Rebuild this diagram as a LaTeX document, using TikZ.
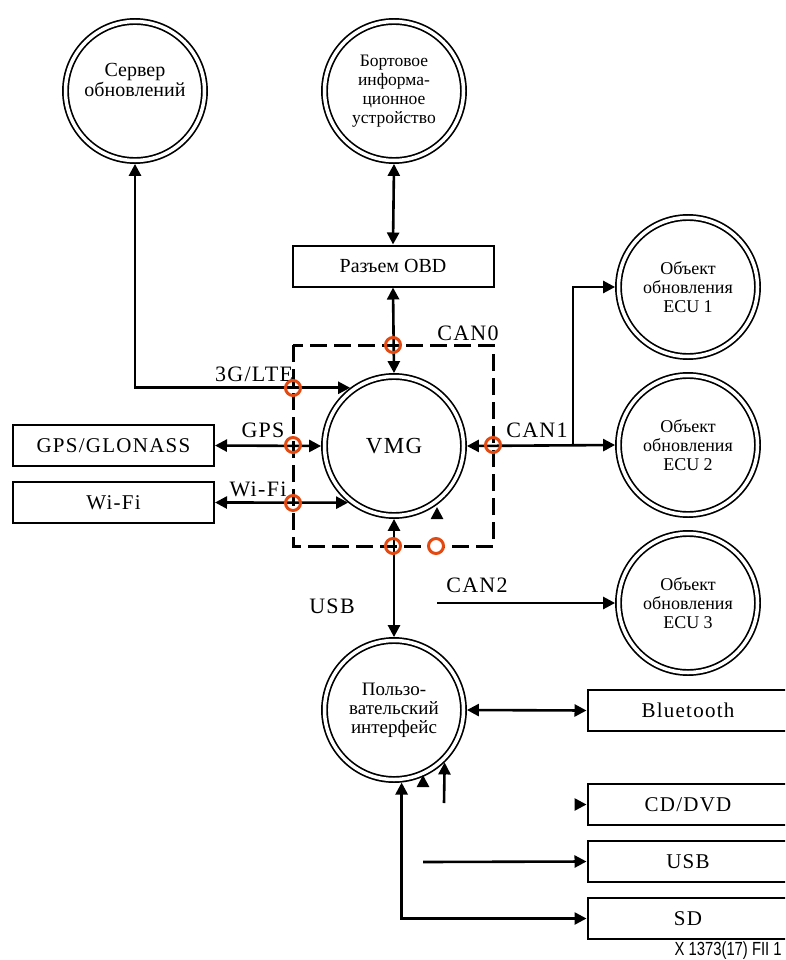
\documentclass[tikz,border=0pt]{standalone}
\usepackage{fontspec}
\setmainfont{Liberation Serif}
\newfontfamily\tagfont[LetterSpace=6]{Liberation Serif}
\newfontfamily\notefont[FakeStretch=0.78]{Liberation Sans}
\usetikzlibrary{arrows.meta}
\definecolor{portred}{RGB}{226,74,18}
\tikzset{
  unit/.style={
    circle,
    draw,
    double,
    double distance=3.5pt,
    line width=1.7pt,
    minimum size=139pt,
    inner sep=0pt,
    outer sep=3.4pt,
    align=center,
    font=\fontsize{18}{19}\selectfont,
  },
  block/.style={
    rectangle,
    draw,
    line width=2pt,
    minimum width=201pt,
    minimum height=41pt,
    inner sep=0pt,
    outer sep=1pt,
    font={\tagfont\fontsize{21}{21}\selectfont},
  },
  tag/.style={
    inner sep=0pt,
    font={\tagfont\fontsize{22}{22}\selectfont},
  },
  port/.style={
    circle,
    draw=portred,
    line width=3pt,
    minimum size=15pt,
    inner sep=0pt,
  }
}

\begin{document}
\begin{tikzpicture}[x=1pt, y=-1pt, line width=2.6pt, >={Triangle[length=12pt,width=12pt]}]
  \useasboundingbox (0, 0) rectangle (785, 960);
  \clip (0, 0) rectangle (785, 960);

  % units
  \node[unit, font=\fontsize{20}{20}\selectfont, text depth=22pt] (server) at (135, 91) {Сервер\\обновлений};
  \node[unit, font=\fontsize{17.5}{19}\selectfont] (board) at (394, 91) {Бортовое\\информа-\\ционное\\устройство};
  \node[unit, font={\tagfont\fontsize{23}{23}\selectfont}] (vmg) at (394, 446) {VMG};
  \node[unit] (ecu1) at (688, 287) {Объект\\обновления\\ECU 1};
  \node[unit] (ecu2) at (688, 445) {Объект\\обновления\\ECU 2};
  \node[unit] (ecu3) at (688, 603) {Объект\\обновления\\ECU 3};
  \node[unit, font=\fontsize{19}{19}\selectfont] (ui) at (394, 710) {Пользо-\\вательский\\интерфейс};

  % blocks
  \node[block, font=\fontsize{20}{20}\selectfont] (obd) at (393, 266) {Разъем OBD};
  \node[block] (gps) at (113.5, 445.5) {GPS/GLONASS};
  \node[block] (wifi) at (113.5, 502.5) {Wi-Fi};
  \node[block] (bt) at (688, 710.5) {Bluetooth};
  \node[block] (cd) at (688, 804.5) {CD/DVD};
  \node[block] (usb) at (688, 861.5) {USB};
  \node[block] (sd) at (688, 918.5) {SD};

  % gateway border
  \draw[line width=3pt, dash pattern=on 17pt off 7pt] (293, 345) rectangle (493, 546);

  % free ends
  \coordinate (fork) at (573, 445);
  \coordinate (can2start) at (437, 603);
  \coordinate (usbstart) at (423, 862);
  \coordinate (uistart) at (444, 803);
  \coordinate (vmgtip) at (437, 507);
  \coordinate (uitip) at (423, 775);

  % links
  \draw[<->] (server.south) |- (vmg.127);
  \draw[<->] (board.south) -- (obd.north);
  \draw[<->] (obd.south) -- (vmg.north);
  \draw[<->] (gps.east) -- (vmg.west);
  \draw[<->] (wifi.east) -- (vmg.231.5);
  \draw[<->] (vmg.east) -- (ecu2.west);
  \draw[->] (fork) |- (ecu1.west);
  \draw[->] (can2start) -- (ecu3.west);
  \draw[<->] (vmg.south) -- (ui.north);
  \draw[<->] (ui.east) -- (bt.west);
  \draw[->] (uistart) -- (ui.-46.7);
  \draw[->] (usbstart) -- (usb.west);
  \draw[<->] (ui.-84.5) |- (sd.west);
  \draw[->] ([xshift=-6pt]cd.west) -- (cd.west);
  \draw[->] ([yshift=-6pt]vmgtip) -- (vmgtip);
  \draw[->] ([yshift=-6pt]uitip) -- (uitip);

  % bus labels
  \node[tag] (can0) at (468, 333) {CAN0};
  \node[tag] (lte) at (254, 374) {3G/LTE};
  \node[tag] (gpstag) at (263, 430) {GPS};
  \node[tag] (wifitag) at (258, 489) {Wi-Fi};
  \node[tag] (can1) at (537, 430) {CAN1};
  \node[tag] (can2) at (477, 585) {CAN2};
  \node[tag] (usbtag) at (332, 606) {USB};

  % ports
  \foreach \position [count=\i] in {
    (393, 345),
    (293, 388),
    (293, 445),
    (293, 503),
    (493, 445),
    (393, 546)
  }
    \node[port] (port\i) at \position {};
  \node[port, fill=white] (port7) at (436, 546) {};

  \node[anchor=east, inner sep=0pt, font={\notefont\fontsize{19}{19}\selectfont}] (code) at (783, 951) {X 1373(17) FII 1};

\end{tikzpicture}
\end{document}
